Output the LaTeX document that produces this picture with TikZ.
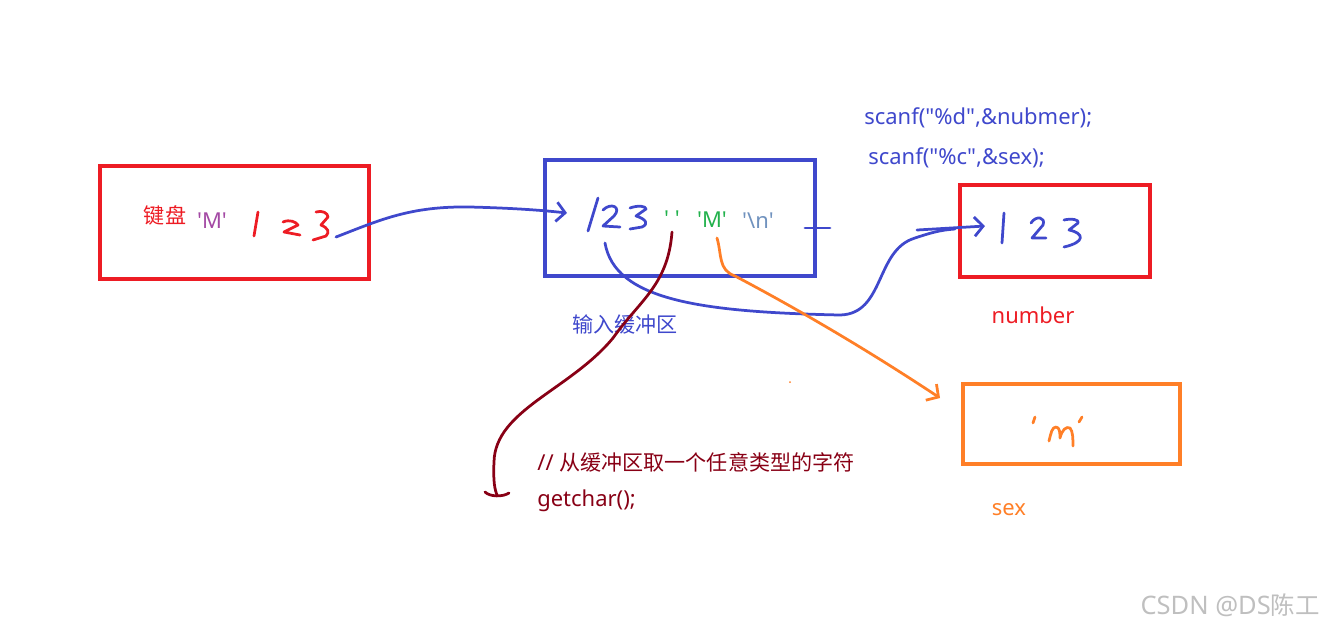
\documentclass[tikz,border=0pt]{standalone}
\usepackage{fontspec}
\setmainfont{Noto Sans}
\newfontfamily\cjk{Noto Sans CJK SC}[Scale=0.96]
\usetikzlibrary{positioning, arrows.meta}
\definecolor{kred}{HTML}{ED1C24}
\definecolor{kblue}{HTML}{3F48CC}
\definecolor{kpurple}{HTML}{A349A4}
\definecolor{kgreen}{HTML}{22B14C}
\definecolor{kgrey}{HTML}{7092BE}
\definecolor{kdark}{HTML}{880015}
\definecolor{korange}{HTML}{FF7F27}
\newcommand{\sq}{\textquotesingle}
\newcommand{\dq}{\textquotedbl}

\begin{document}
\begin{tikzpicture}[x=0.02cm, y=-0.02cm,
        box/.style={draw, rectangle, line width=0.08cm, inner sep=0pt},
        hand/.style={line width=0.055cm, line cap=round, line join=round},
        txt/.style={inner sep=0pt, font=\fontsize{12.5}{15}\selectfont},
        barb/.style={-{Straight Barb[length=5pt, width=11pt]}}]

        \useasboundingbox (0,0) rectangle (1323,627);

        \node[box, kred, minimum width=5.38cm, minimum height=2.26cm] (K) at (234.5,222.5) {};
        \node[box, kblue, minimum width=5.40cm, minimum height=2.32cm] (B) at (680,218) {};
        \node[box, kred, minimum width=3.80cm, minimum height=1.84cm] (N) at (1055,231) {};
        \node[box, korange, minimum width=4.34cm, minimum height=1.60cm] (S) at (1071.5,424) {};

        \node[txt, kred] (kb) at (165,215) {\cjk 键盘};
        \node[txt, kpurple] (km) at (212,221) {\sq M\sq};

        \node[txt, kgreen] (bs) at (672,219) {\sq\ \sq};
        \node[txt, kgreen] (bm) at (712,220) {\sq M\sq};
        \node[txt, kgrey] (bn) at (758,221) {\sq\textbackslash n\sq};
        \node[txt, kblue] (bl) at (625,324) {\cjk 输入缓冲区};

        \node[txt, kblue, anchor=west] (sc1) at (864,118) {scanf(\dq\%d\dq,\&nubmer);};
        \node[txt, kblue, anchor=west] (sc2) at (868,158) {scanf(\dq\%c\dq,\&sex);};

        \node[txt, kred] (nl) at (1033,315) {number};
        \node[txt, korange] (sl) at (1009,510) {sex};

        \node[txt, kdark, anchor=west] (g1) at (537,462) {// {\cjk 从缓冲区取一个任意类型的字符}};
        \node[txt, kdark, below=0.35cm of g1.south west, anchor=north west] (g2) {getchar();};

        \node[inner sep=0pt, anchor=east, gray!50, font=\fontsize{14.5}{17}\selectfont] (wm) at (1320,605) {CSDN @DS{\cjk 陈工}};

        % handwritten 1 2 3
        \draw[hand, kred] (258,212) -- (254,236);
        \draw[hand, kred] (283,222) .. controls (290,219) and (296,222) .. (298,225) -- (284,232) -- (300,235);
        \draw[hand, kred] (316,212) .. controls (322,210) and (328,213) .. (328,217) -- (321,225) .. controls (328,228) and (330,232) .. (326,236) -- (313,240);

        \draw[hand, kblue] (598,198) -- (588,231);
        \draw[hand, kblue] (603,210) .. controls (611,202) and (622,207) .. (614,216) -- (603,226) -- (620,227);
        \draw[hand, kblue] (630,208) .. controls (638,205) and (646,206) .. (646,209) -- (636,216) .. controls (646,219) and (649,224) .. (642,227) -- (630,229);

        \draw[hand, kblue] (1004,213) -- (1002,243);
        \draw[hand, kblue] (1031,223) .. controls (1036,215) and (1046,217) .. (1043,225) -- (1032,238) -- (1046,238);
        \draw[hand, kblue] (1064,220) .. controls (1072,218) and (1080,220) .. (1078,223) -- (1069,230) .. controls (1084,233) and (1086,242) .. (1064,247);

        \draw[hand, korange] (1035,417) -- (1033,423);
        \draw[hand, korange] (1049,441) .. controls (1051,433) and (1052,427) .. (1056,427) .. controls (1060,427) and (1060,434) .. (1060,438) .. controls (1062,430) and (1066,426) .. (1070,428) .. controls (1073,431) and (1073,440) .. (1073,446);
        \draw[hand, korange] (1082,417) -- (1079,422);

        % connectors
        \coordinate (k3) at (336,237);
        \coordinate (b1) at (567,213);
        \draw[hand, kblue, barb] (k3) .. controls (380,220) and (410,206) .. (470,207) .. controls (510,208) and (540,210) .. (b1);

        \draw[hand, kblue] (805,228) -- (830,228);

        \coordinate (b2) at (605,243);
        \coordinate (n1) at (985,226);
        \draw[hand, kblue] (b2) .. controls (615,300) and (700,312) .. (840,315) .. controls (885,314) and (875,250) .. (915,238) .. controls (930,233) and (940,230) .. (955,229);
        \draw[hand, kblue, barb] (917,230) -- (n1);

        \coordinate (b3) at (672,232);
        \coordinate (g0) at (497,495);
        \draw[hand, kdark] (b3) .. controls (668,285) and (640,300) .. (613,338) .. controls (570,390) and (495,410) .. (494,462) .. controls (493,482) and (495,490) .. (g0);
        \draw[hand, kdark] (485,492) .. controls (490,497) and (503,497) .. (509,493);

        \coordinate (b4) at (717,238);
        \coordinate (s1) at (940,398);
        \draw[hand, korange, barb] (b4) .. controls (722,255) and (718,270) .. (735,276) .. controls (790,305) and (860,345) .. (s1);

        \fill[korange] (790,382) circle (1);

    \end{tikzpicture}
\end{document}
